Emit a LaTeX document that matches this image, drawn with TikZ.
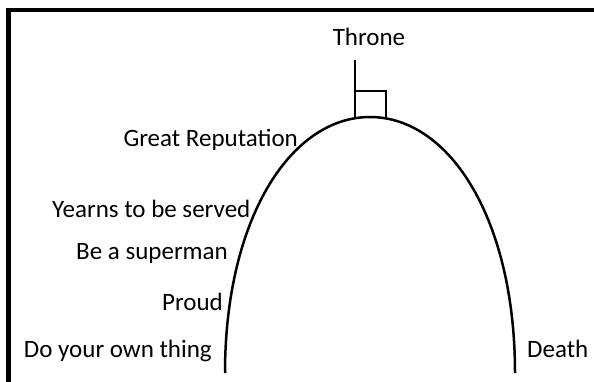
\documentclass[tikz,border=0pt]{standalone}
\usepackage{fontspec}
\setmainfont{Carlito}
\begin{document}
\begin{tikzpicture}[x=1pt,y=-1pt,
  lbl/.style={inner sep=0pt, text=black, font=\fontsize{25}{30}\selectfont},
  frame/.style={line width=4.5pt, miter limit=10},
  arch/.style={line width=2.5pt},
  chair/.style={line width=2pt}]
\useasboundingbox (0,0) rectangle (594,381);
\fill[white] (0,0) rectangle (594,381);
% frame (top and left edges)
\draw[frame] (8.5,385) -- (8.5,10) -- (598,10);
% arch
\coordinate (L) at (225,373);
\coordinate (T) at (370,117);
\coordinate (R) at (515,373);
\draw[arch] (L) .. controls (225,220) and (290,117) .. (T)
            .. controls (450,117) and (515,220) .. (R);
% throne
\coordinate (back) at (355,117.5);
\coordinate (backtop) at (355,60);
\coordinate (seatback) at (355,91);
\coordinate (seatfront) at (386,91);
\coordinate (front) at (386,118);
\draw[chair] (back) -- (backtop);
\draw[chair] (seatback) -- (seatfront) -- (front);
% labels
\node[lbl, anchor=base] (throne) at (369,45) {Throne};
\node[lbl, anchor=base east] (rep) at (298,146.5) {Great Reputation};
\node[lbl, anchor=base east] (yearn) at (250.5,217) {Yearns to be served};
\node[lbl, anchor=base east] (super) at (228,259) {Be a superman};
\node[lbl, anchor=base east] (proud) at (223,310) {Proud};
\node[lbl, anchor=base east] (own) at (212,357) {Do your own thing};
\node[lbl, anchor=base west] (death) at (527,357) {Death};
\end{tikzpicture}
\end{document}
